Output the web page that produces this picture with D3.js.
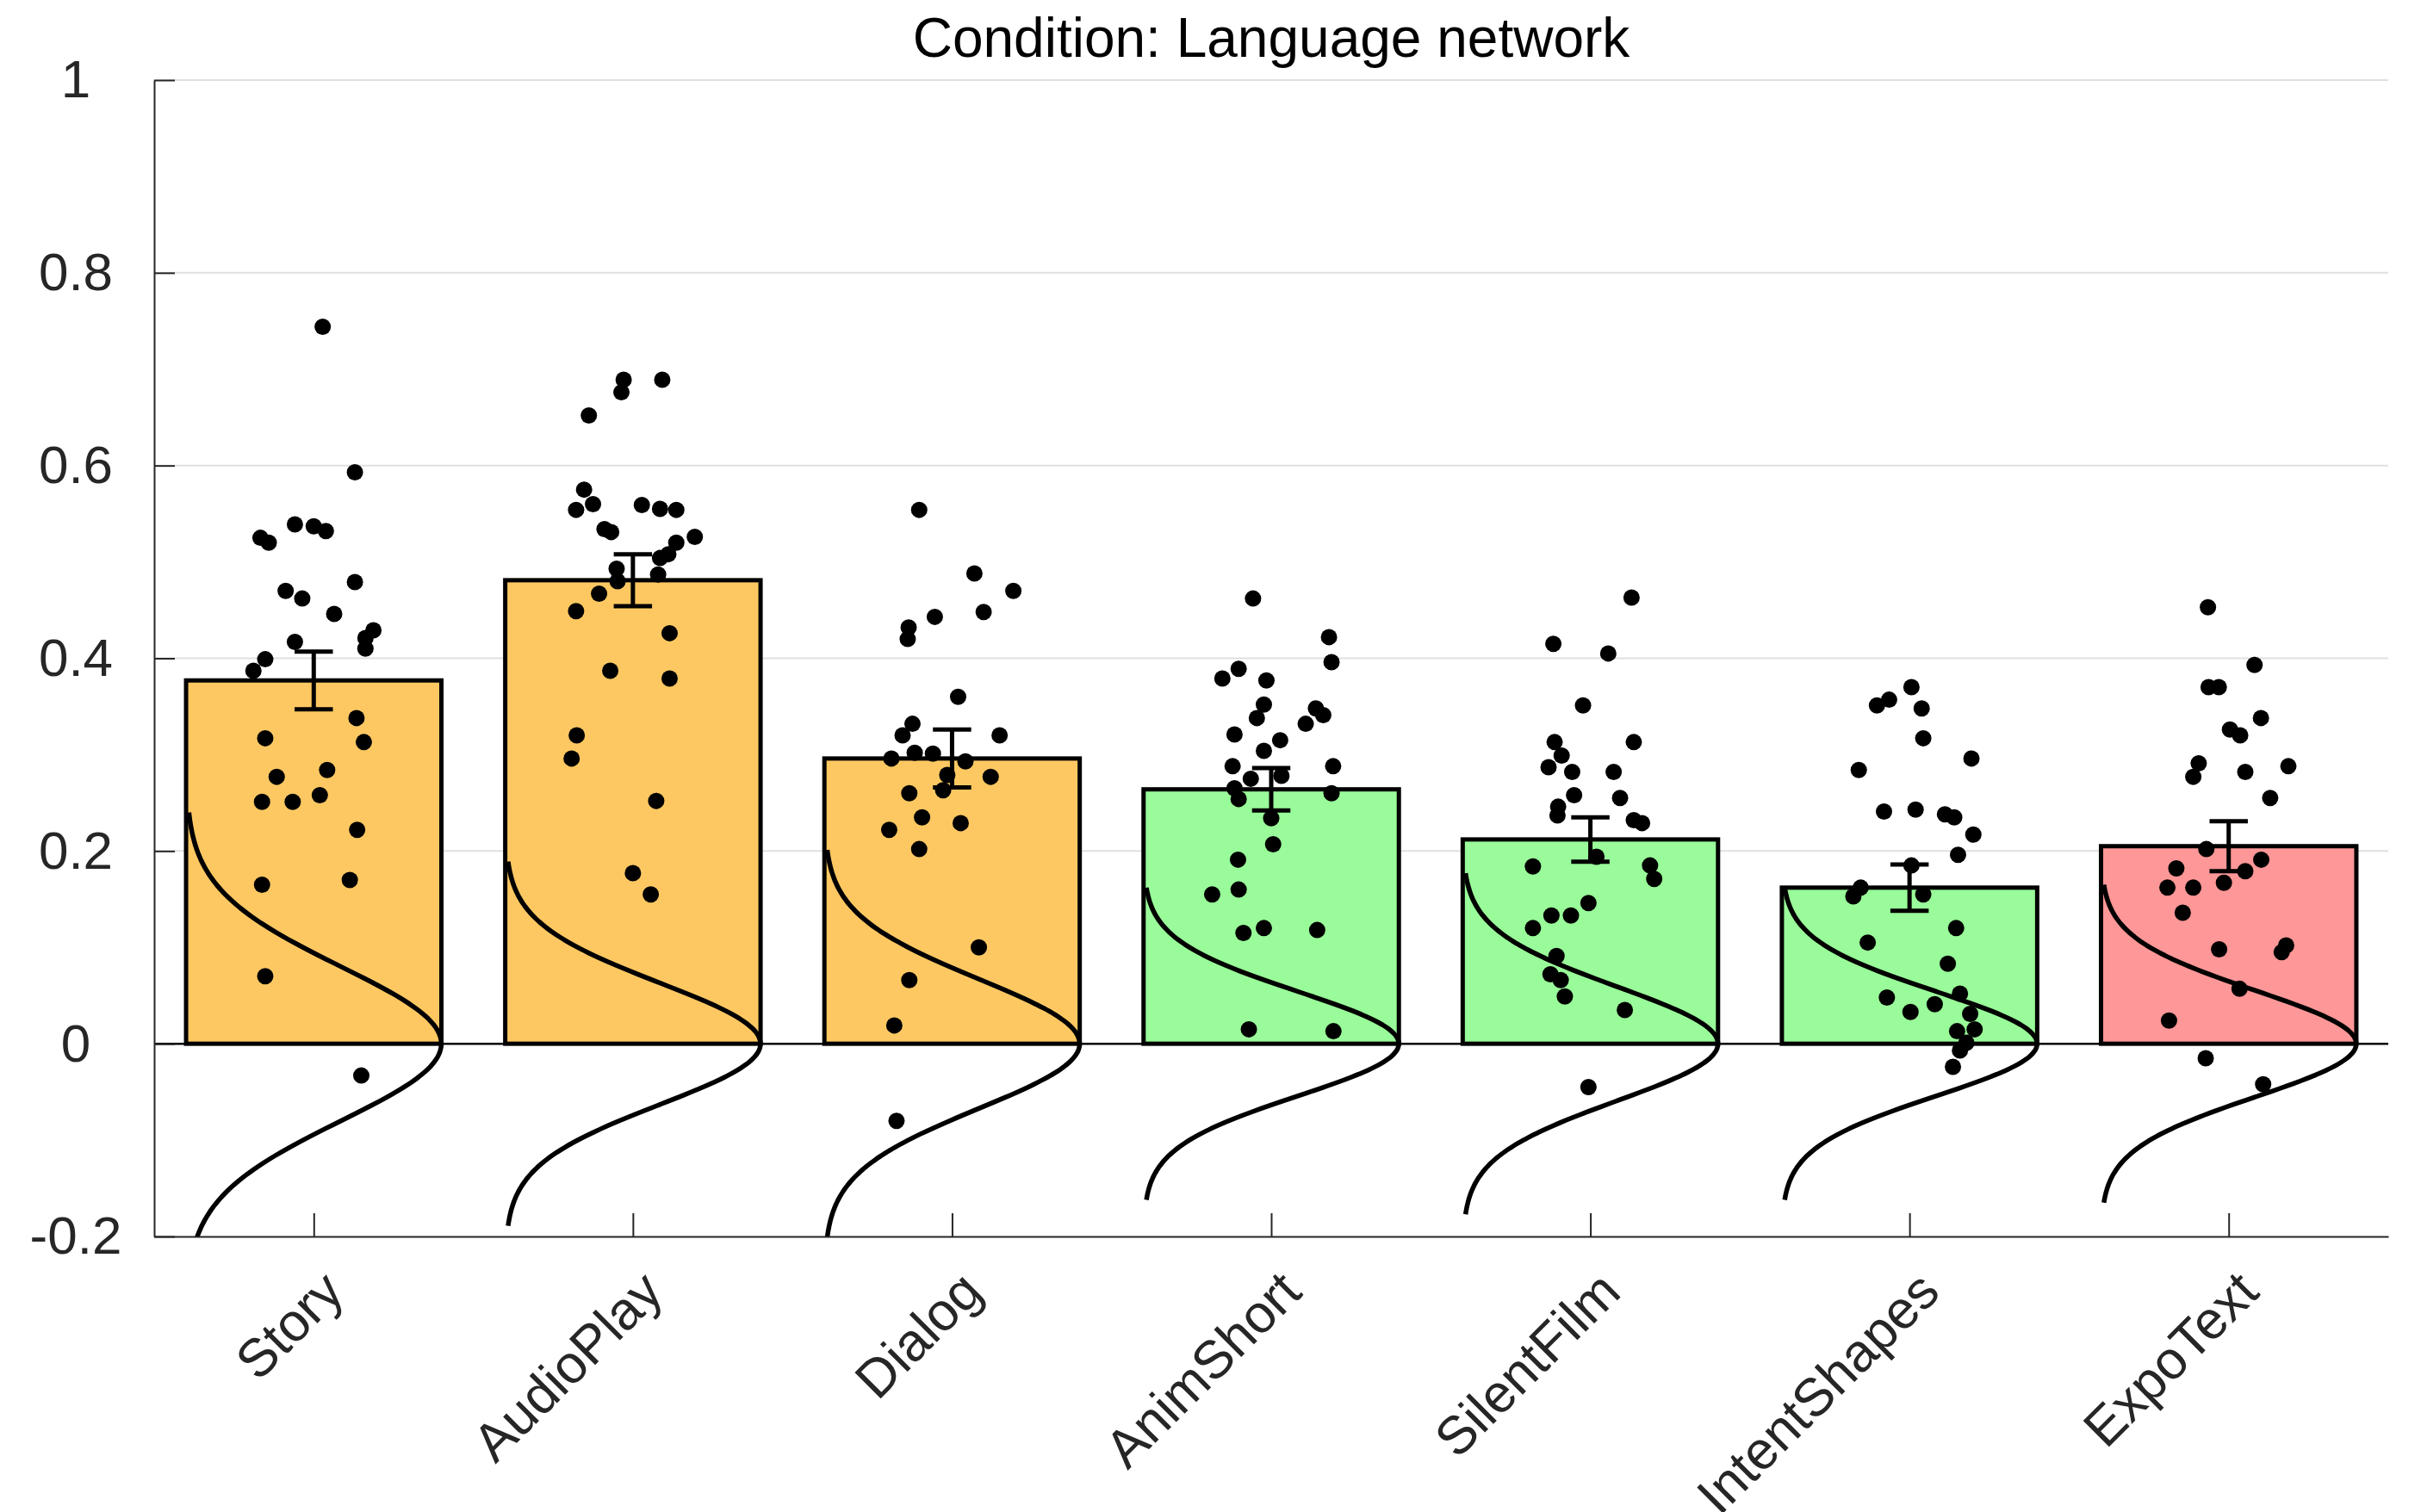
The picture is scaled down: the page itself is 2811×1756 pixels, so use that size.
<!DOCTYPE html>
<html>
<head>
<meta charset="utf-8">
<script src="https://cdn.jsdelivr.net/npm/d3@7"></script>
<style>
  html, body { margin: 0; padding: 0; background: #fff; }
  svg { display: block; }
</style>
</head>
<body>
<div id="chart"></div>
<script>
// ---- data ----
var chartTitle = "Condition: Language network";
var categories = ["Story", "AudioPlay", "Dialog", "AnimShort", "SilentFilm", "IntentShapes", "ExpoText"];
var barMeans = [0.377, 0.481, 0.296, 0.264, 0.212, 0.162, 0.205];
var barSem = [0.030, 0.027, 0.030, 0.022, 0.023, 0.024, 0.026];
var barColors = ["#fdc862", "#fdc862", "#fdc862", "#99fb99", "#99fb99", "#99fb99", "#fe9797"];
// spread of the normal curve drawn in each bar
var curveSigma = [0.080, 0.063, 0.067, 0.054, 0.059, 0.054, 0.055];
var yTicks = [-0.2, 0, 0.2, 0.4, 0.6, 0.8, 1];

// [x jitter (category units), value]
var pointsStory = [[0.028, 0.744], [0.129, 0.593], [-0.167, 0.525], [-0.141, 0.520], [-0.059, 0.539], [0.000, 0.537],
  [0.038, 0.532], [0.129, 0.479], [-0.088, 0.470], [-0.036, 0.462], [0.064, 0.446], [-0.059, 0.417], [0.187, 0.429],
  [0.162, 0.421], [0.162, 0.410], [-0.152, 0.399], [-0.189, 0.387], [0.134, 0.338], [0.157, 0.313], [-0.152, 0.317],
  [-0.116, 0.277], [0.042, 0.284], [-0.162, 0.251], [-0.066, 0.251], [0.019, 0.258], [0.136, 0.222], [-0.162, 0.165],
  [0.113, 0.170], [-0.152, 0.070], [0.149, -0.033]];
var pointsAudioPlay = [[-0.029, 0.689], [-0.036, 0.676], [0.092, 0.689], [-0.138, 0.652], [-0.153, 0.575], [-0.125, 0.560],
  [-0.178, 0.554], [0.028, 0.559], [0.085, 0.555], [0.136, 0.554], [-0.089, 0.534], [-0.068, 0.531], [0.194, 0.526],
  [0.136, 0.520], [0.111, 0.508], [0.085, 0.504], [-0.051, 0.493], [-0.048, 0.480], [0.079, 0.487], [-0.106, 0.467],
  [-0.178, 0.449], [0.115, 0.426], [-0.071, 0.387], [0.115, 0.379], [-0.176, 0.320], [-0.192, 0.296], [0.073, 0.252],
  [0.000, 0.177], [0.056, 0.155]];
var pointsDialog = [[-0.103, 0.554], [0.070, 0.488], [0.192, 0.470], [0.099, 0.448], [-0.054, 0.443], [-0.136, 0.432],
  [-0.139, 0.420], [0.019, 0.360], [-0.124, 0.332], [-0.155, 0.320], [0.149, 0.320], [-0.190, 0.296], [-0.117, 0.302],
  [-0.060, 0.301], [0.042, 0.293], [-0.015, 0.279], [0.121, 0.277], [-0.028, 0.263], [-0.134, 0.260], [-0.094, 0.235],
  [0.027, 0.229], [-0.197, 0.222], [-0.103, 0.202], [0.084, 0.100], [-0.134, 0.066], [-0.181, 0.019], [-0.174, -0.080]];
var pointsAnimShort = [[-0.057, 0.462], [0.181, 0.422], [0.189, 0.396], [-0.102, 0.389], [-0.153, 0.379], [-0.015, 0.377],
  [-0.023, 0.352], [0.140, 0.348], [0.163, 0.341], [-0.045, 0.338], [0.108, 0.332], [-0.115, 0.321], [0.028, 0.315],
  [-0.023, 0.304], [-0.121, 0.288], [0.194, 0.288], [-0.064, 0.275], [0.032, 0.278], [-0.115, 0.265], [-0.102, 0.254],
  [0.189, 0.260], [0.000, 0.234], [0.006, 0.207], [-0.104, 0.191], [-0.185, 0.155], [-0.102, 0.160], [-0.087, 0.115],
  [-0.023, 0.120], [0.144, 0.118], [-0.070, 0.015], [0.195, 0.013]];
var pointsSilentFilm = [[0.129, 0.463], [-0.116, 0.415], [0.056, 0.405], [-0.023, 0.351], [-0.112, 0.313], [0.136, 0.313],
  [-0.090, 0.299], [-0.131, 0.287], [-0.057, 0.282], [0.073, 0.282], [-0.051, 0.258], [0.093, 0.255], [-0.101, 0.246],
  [-0.103, 0.237], [0.136, 0.232], [0.162, 0.229], [0.019, 0.194], [-0.180, 0.184], [0.187, 0.185], [0.200, 0.171],
  [-0.006, 0.146], [-0.122, 0.133], [-0.061, 0.133], [-0.180, 0.120], [-0.106, 0.091], [-0.125, 0.072], [-0.093, 0.066],
  [-0.080, 0.049], [0.108, 0.035], [-0.006, -0.045]];
var pointsIntentShapes = [[0.006, 0.370], [-0.102, 0.351], [-0.064, 0.357], [0.038, 0.348], [0.043, 0.317], [0.194, 0.296],
  [-0.159, 0.284], [-0.080, 0.241], [0.019, 0.243], [0.111, 0.238], [0.140, 0.235], [0.200, 0.217], [0.152, 0.196],
  [0.006, 0.185], [-0.153, 0.162], [-0.176, 0.153], [0.043, 0.155], [0.146, 0.120], [-0.131, 0.105], [0.120, 0.083],
  [0.158, 0.052], [-0.071, 0.048], [0.079, 0.041], [0.003, 0.033], [0.190, 0.031], [0.149, 0.013], [0.204, 0.015],
  [0.178, 0.001], [0.158, -0.007], [0.136, -0.024]];
var pointsExpoText = [[-0.065, 0.453], [0.081, 0.393], [-0.063, 0.370], [-0.031, 0.370], [0.101, 0.338], [0.004, 0.326],
  [0.036, 0.320], [-0.094, 0.291], [-0.111, 0.277], [0.052, 0.282], [0.187, 0.288], [0.130, 0.255], [-0.070, 0.202],
  [0.102, 0.191], [-0.164, 0.182], [0.052, 0.179], [-0.192, 0.162], [-0.111, 0.162], [-0.015, 0.167], [-0.144, 0.136],
  [-0.030, 0.098], [0.166, 0.095], [0.180, 0.102], [0.034, 0.057], [-0.187, 0.024], [-0.072, -0.015], [0.108, -0.042]];
var pointSets = [pointsStory, pointsAudioPlay, pointsDialog, pointsAnimShort, pointsSilentFilm, pointsIntentShapes, pointsExpoText];

// ---- layout ----
var W = 2811, H = 1756;
var plotLeft = 179, plotRight = 2773, plotTop = 93, plotBottom = 1436;
var barWidth = 0.8;     // in category units
var capHalf = 0.06;     // error bar cap half width
var axisColor = "#262626";
var font = "'Liberation Sans', Arial, Helvetica, sans-serif";

var svg = d3.select("#chart").append("svg")
  .attr("width", W)
  .attr("height", H)
  .style("font-family", font);

var x = d3.scaleLinear().domain([0.5, categories.length + 0.5]).range([plotLeft, plotRight]);
var y = d3.scaleLinear().domain([-0.2, 1]).range([plotBottom, plotTop]);

svg.append("defs").append("clipPath").attr("id", "plotclip")
  .append("rect")
  .attr("x", plotLeft).attr("y", plotTop)
  .attr("width", plotRight - plotLeft).attr("height", plotBottom - plotTop);

// gridlines
svg.append("g")
  .selectAll("line")
  .data(yTicks.filter(function (t) { return t > 0; }))
  .enter()
  .append("line")
  .attr("x1", plotLeft).attr("x2", plotRight)
  .attr("y1", function (d) { return y(d); })
  .attr("y2", function (d) { return y(d); })
  .style("stroke", "#e0e0e0")
  .style("stroke-width", "2px");

var data = categories.map(function (c, i) {
  return { name: c, pos: i + 1, mean: barMeans[i], sem: barSem[i], color: barColors[i], sigma: curveSigma[i], pts: pointSets[i] };
});

// bars
svg.append("g")
  .selectAll("rect")
  .data(data)
  .enter()
  .append("rect")
  .attr("x", function (d) { return x(d.pos - barWidth / 2); })
  .attr("width", function (d) { return x(d.pos + barWidth / 2) - x(d.pos - barWidth / 2); })
  .attr("y", function (d) { return y(d.mean); })
  .attr("height", function (d) { return y(0) - y(d.mean); })
  .style("fill", function (d) { return d.color; })
  .style("stroke", "#000")
  .style("stroke-width", "5px");

// zero line
svg.append("line")
  .attr("x1", plotLeft).attr("x2", plotRight)
  .attr("y1", y(0)).attr("y2", y(0))
  .style("stroke", "#000")
  .style("stroke-width", "2.5px");

// normal curves lying on their side in every bar
var curveLine = d3.line()
  .x(function (p) { return x(p[0]); })
  .y(function (p) { return y(p[1]); })
  .curve(d3.curveBasis);

svg.append("g")
  .attr("clip-path", "url(#plotclip)")
  .selectAll("path")
  .data(data)
  .enter()
  .append("path")
  .attr("d", function (d) {
    var lo = d.pos - barWidth / 2;
    var pts = d3.range(-3, 3.0001, 0.05).map(function (z) {
      return [lo + barWidth * Math.exp(-0.5 * z * z), z * d.sigma];
    });
    return curveLine(pts);
  })
  .style("fill", "none")
  .style("stroke", "#000")
  .style("stroke-width", "5.5px");

// subject points
var dots = svg.append("g");
data.forEach(function (d) {
  dots.selectAll(".pt" + d.pos)
    .data(d.pts)
    .enter()
    .append("circle")
    .attr("cx", function (p) { return x(d.pos + p[0]); })
    .attr("cy", function (p) { return y(p[1]); })
    .attr("r", 9.5)
    .style("fill", "#000");
});

// error bars
var eb = svg.append("g")
  .selectAll("g")
  .data(data)
  .enter()
  .append("g")
  .style("stroke", "#000")
  .style("stroke-width", "5px");
eb.append("line")
  .attr("x1", function (d) { return x(d.pos); })
  .attr("x2", function (d) { return x(d.pos); })
  .attr("y1", function (d) { return y(d.mean - d.sem); })
  .attr("y2", function (d) { return y(d.mean + d.sem); });
[-1, 1].forEach(function (s) {
  eb.append("line")
    .attr("x1", function (d) { return x(d.pos - capHalf); })
    .attr("x2", function (d) { return x(d.pos + capHalf); })
    .attr("y1", function (d) { return y(d.mean + s * d.sem); })
    .attr("y2", function (d) { return y(d.mean + s * d.sem); });
});

// y axis
var yAxis = d3.axisLeft(y)
  .tickValues(yTicks)
  .tickFormat(function (d) { return String(d); })
  .tickSizeInner(-24)
  .tickSizeOuter(0)
  .tickPadding(91);
var gy = svg.append("g").attr("transform", "translate(" + plotLeft + ",0)").call(yAxis);
gy.select(".domain").style("stroke", axisColor).style("stroke-width", "2px");
gy.selectAll(".tick line").style("stroke", axisColor).style("stroke-width", "2px");
gy.selectAll(".tick text")
  .attr("text-anchor", "middle")
  .style("font-family", font)
  .style("font-size", "62px")
  .style("fill", axisColor);

// x axis
var xAxis = d3.axisBottom(x)
  .tickValues(d3.range(1, categories.length + 1))
  .tickFormat(function (i) { return categories[i - 1]; })
  .tickSizeInner(-27)
  .tickSizeOuter(0);
var gx = svg.append("g").attr("transform", "translate(0," + plotBottom + ")").call(xAxis);
gx.select(".domain").style("stroke", axisColor).style("stroke-width", "2px");
gx.selectAll(".tick line").style("stroke", axisColor).style("stroke-width", "2px");
gx.selectAll(".tick text")
  .attr("x", 0).attr("y", 0)
  .attr("dy", "0.35em")
  .attr("text-anchor", "end")
  .attr("transform", "translate(22,52) rotate(-45)")
  .style("font-family", font)
  .style("font-size", "62px")
  .style("fill", axisColor);

// title
svg.append("text")
  .attr("x", (plotLeft + plotRight) / 2)
  .attr("y", 66)
  .attr("text-anchor", "middle")
  .style("font-size", "64px")
  .style("fill", "#000")
  .text(chartTitle);
</script>
</body>
</html>
